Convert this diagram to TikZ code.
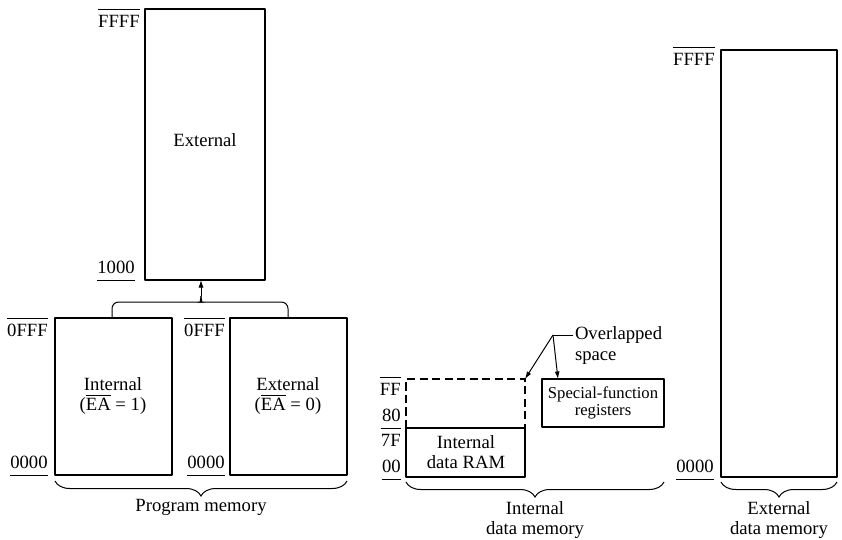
\documentclass[tikz,border=0pt]{standalone}
\usepackage{fontspec}
\setmainfont{Liberation Serif}
\usepackage{tkz-euclide}
\usetikzlibrary{arrows.meta,decorations.pathreplacing}

\tikzset{
    every node/.style={font=\fontsize{11.2}{11.6}\selectfont},
    addrhi/.style={anchor=north east,inner xsep=0pt,inner ysep=3.5pt,
        append after command={(\tikzlastnode.north west) edge[line width=.6pt] (\tikzlastnode.north east)}},
    addrlo/.style={anchor=south east,inner xsep=0pt,inner ysep=3.5pt,
        append after command={(\tikzlastnode.south west) edge[line width=.6pt] (\tikzlastnode.south east)}},
    addrmid/.style={anchor=east,inner xsep=0pt},
    conn/.style={line width=.6pt},
    ptr/.style={conn,-{Latex[length=4.5pt,width=3pt]}},
    memgroup/.style={conn,decorate,decoration={brace,mirror,amplitude=9pt}},
    caption/.style={align=center,font=\fontsize{11.2}{11.6}\selectfont}
}
\newcommand{\barEA}{$\overline{\hbox{EA}}$}

\begin{document}
\begin{tikzpicture}[x=0.6pt,y=-0.6pt]
            \useasboundingbox (0,0) rectangle (842,539);
            \tkzDefPoint(145,9){PA}
            \tkzDefPoint(265,9){PB}
            \tkzDefPoint(265,280){PC}
            \tkzDefPoint(145,280){PD}
            \tkzDefPoint(201,280){PM}
            \tkzDefPoint(55,318){IA}
            \tkzDefPoint(172,318){IB}
            \tkzDefPoint(172,475){IC}
            \tkzDefPoint(55,475){ID}
            \tkzDefPoint(230,318){EA}
            \tkzDefPoint(347,318){EB}
            \tkzDefPoint(347,475){EC}
            \tkzDefPoint(230,475){ED}
            \tkzDefPoint(112,318){IT}
            \tkzDefPoint(288,318){ET}
            \tkzDefPoint(195,302){PJl}
            \tkzDefPoint(207,302){PJr}
            \tkzDefPoint(201,296){PJ}
            \tkzDefPoint(406,379){DA}
            \tkzDefPoint(525,379){DB}
            \tkzDefPoint(525,428){RB}
            \tkzDefPoint(406,428){RA}
            \tkzDefPoint(525,477){RC}
            \tkzDefPoint(406,477){RD}
            \tkzDefPoint(542,379){SA}
            \tkzDefPoint(664,379){SB}
            \tkzDefPoint(664,427){SC}
            \tkzDefPoint(542,427){SD}
            \tkzDefPoint(558,379){ST}
            \tkzDefPoint(553,335){OJ}
            \tkzDefPoint(721,50){XA}
            \tkzDefPoint(837,50){XB}
            \tkzDefPoint(837,477){XC}
            \tkzDefPoint(721,477){XD}
            \tkzDrawPolygon[line width=1.2pt](PA,PB,PC,PD)
            \tkzDrawPolygon[line width=1.2pt](IA,IB,IC,ID)
            \tkzDrawPolygon[line width=1.2pt](EA,EB,EC,ED)
            \tkzDrawPolygon[line width=1.2pt](RA,RB,RC,RD)
            \tkzDrawPolygon[line width=1.2pt](SA,SB,SC,SD)
            \tkzDrawPolygon[line width=1.2pt](XA,XB,XC,XD)
            \draw[line width=1.2pt,dash pattern=on 5pt off 2.5pt] (RA) -- (DA) -- (DB) -- (RB);
            \draw[conn,rounded corners=4pt] (IT) |- (PJl) .. controls (199,302) and (201,300) .. (PJ);
            \draw[conn,rounded corners=4pt] (ET) |- (PJr) .. controls (203,302) and (201,300) .. (PJ);
            \draw[ptr] (PJ) -- (PM);
            \node at (205,140) {External};
            \node[align=center] at (113,396) {Internal\\(\barEA{} = 1)};
            \node[align=center] at (288,396) {External\\(\barEA{} = 0)};
            \node[align=center] at (466,452) {Internal\\data RAM};
            \node[align=center,font=\fontsize{10}{10.5}\selectfont] at (603,403) {Special-function\\registers};
            \node[addrhi] (pffff) at (140,9) {FFFF};
            \node[addrlo] (p1000) at (135,280) {1000};
            \node[addrhi] (ifff) at (48,318) {0FFF};
            \node[addrlo] (izero) at (48,475) {0000};
            \node[addrhi] (efff) at (225,318) {0FFF};
            \node[addrlo] (ezero) at (225,475) {0000};
            \node[addrhi] (dff) at (401,377) {FF};
            \node[addrmid] (d80) at (401,415) {80};
            \node[addrhi] (d7f) at (401,428) {7F};
            \node[addrlo] (d00) at (401,479) {00};
            \node[addrhi] (xffff) at (715,47) {FFFF};
            \node[addrlo] (xzero) at (714,479) {0000};
            \node[anchor=west,inner xsep=1pt] (ovl) at (573,335) {Overlapped};
            \node[anchor=north west,inner xsep=1pt,inner ysep=1pt] (spc) at (ovl.south west) {space};
            \draw[conn] (OJ) -- (ovl.west);
            \draw[ptr] (OJ) -- (DB);
            \draw[ptr] (OJ) -- (ST);
            \draw[memgroup] (55,481) -- (347,481);
            \draw[memgroup] (406,482) -- (664,482);
            \draw[memgroup] (721,482) -- (837,482);
            \node[caption] (pmem) at (201,507) {Program memory};
            \node[caption] (imem) at (535,520) {Internal\\data memory};
            \node[caption] (xmem) at (779,520) {External\\data memory};
        \end{tikzpicture}
\end{document}
